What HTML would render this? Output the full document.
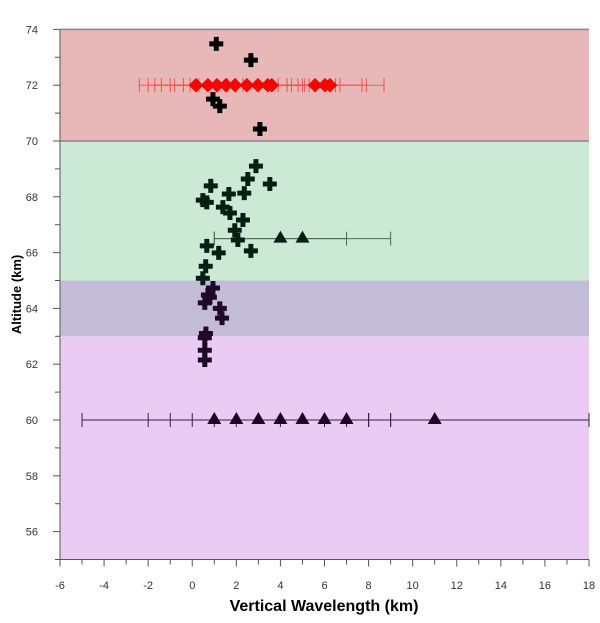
<!DOCTYPE html>
<html><head><meta charset="utf-8"><style>
body{margin:0;background:#fff;}
svg{display:block;font-family:"Liberation Sans",sans-serif;}
</style></head><body>
<svg id="c" width="600" height="623"></svg>
<script>
const crossX=[1.09,2.66,0.94,1.25,3.07,2.89,2.52,3.52,0.84,1.66,2.36,0.48,0.66,1.39,1.71,2.3,1.93,2.07,0.66,1.2,2.66,0.61,0.48,0.94,0.71,0.8,0.57,1.25,1.35,0.62,0.57,0.57,0.57];
const crossY=[73.48,72.9,71.5,71.25,70.43,69.1,68.64,68.46,68.39,68.1,68.13,67.88,67.8,67.63,67.42,67.17,66.8,66.45,66.24,65.99,66.06,65.51,65.08,64.73,64.48,64.4,64.2,64.0,63.65,63.1,62.95,62.5,62.15];
const diaX=[0.17,0.71,1.12,1.53,1.94,2.48,2.98,3.43,3.61,5.57,6.02,6.25];
const diaLo=[-2.4,-2.0,-1.7,-1.4,-1.0,-0.8,-0.4,-0.1,0.3,1.6,2.0,2.3];
const diaHi=[3.9,4.3,4.5,5.0,5.3,6.5,6.7,7.7,7.9,8.7,4.8,5.1];
const greenTriX=[4,5];const greenTriLo=[1,1];const greenTriHi=[7,9];
const purpleTriX=[1,2,3,4,5,6,7,11];
const purpleTriLo=[-5,-2,-1,0,1,2,4,8];
const purpleTriHi=[7,6,7,8,9,8,9,18];
const xTicks=[-6,-4,-2,0,2,4,6,8,10,12,14,16,18];
const yTicks=[56,58,60,62,64,66,68,70,72,74];
const NS="http://www.w3.org/2000/svg",svg=document.getElementById('c');
const X=v=>60+(v+6)*529/24, Y=v=>420-(v-60)*27.9;
function el(t,a,p){const e=document.createElementNS(NS,t);for(const k in a)e.setAttribute(k,a[k]);(p||svg).appendChild(e);return e;}
const bands=[[70,74,'#e8b8b8','band-high'],[65,70,'#cce9d6','band-mid'],[63,65,'#c3bcd6','band-low'],[55,63,'#eacbf3','band-bottom']];
bands.forEach(b=>{const r=el('rect',{x:X(-6),y:Y(b[1]),width:X(18)-X(-6),height:Y(b[0])-Y(b[1]),fill:b[2]});

});
el('line',{x1:X(-6),x2:X(18),y1:Y(70),y2:Y(70),stroke:'#888','stroke-width':1.5});
el('line',{x1:X(-6),x2:X(18),y1:Y(74),y2:Y(74),stroke:'#888','stroke-width':1.5});
el('line',{x1:X(-6),x2:X(-6),y1:Y(74),y2:Y(55),stroke:'#555'});
el('line',{x1:X(-6),x2:X(18),y1:Y(55),y2:Y(55),stroke:'#555'});
for(let v=-6;v<=18;v++)el('line',{x1:X(v),x2:X(v),y1:Y(55),y2:Y(55)+(v%2==0?7:5),stroke:'#555'});
for(let v=55;v<=74;v++)el('line',{x1:X(-6),x2:X(-6)-(v%2==0?7:5),y1:Y(v),y2:Y(v),stroke:'#555'});
xTicks.forEach(v=>{const t=el('text',{x:X(v),y:589,'font-size':11,'text-anchor':'middle',fill:'#333'});t.textContent=v;

});
yTicks.forEach(v=>{const t=el('text',{x:38,y:Y(v)+4,'font-size':11,'text-anchor':'end',fill:'#333'});t.textContent=v;

});
let t=el('text',{x:324,y:611,'font-size':16,'font-weight':'bold','text-anchor':'middle'});t.textContent='Vertical Wavelength (km)';


t=el('text',{x:21,y:Y(64.5),'font-size':13,'font-weight':'bold','text-anchor':'middle',transform:`rotate(-90 21 ${Y(64.5)})`});t.textContent='Altitude (km)';


function ebar(x,lo,hi,yv,col,w){const y=Y(yv);el('line',{x1:X(lo),x2:X(hi),y1:y,y2:y,stroke:col,'stroke-width':w});
[lo,hi].forEach(v=>el('line',{x1:X(v),x2:X(v),y1:y-7,y2:y+7,stroke:col,'stroke-width':1}));}
purpleTriX.forEach((x,i)=>ebar(x,purpleTriLo[i],purpleTriHi[i],60,'#3a2040',1));
greenTriX.forEach((x,i)=>ebar(x,greenTriLo[i],greenTriHi[i],66.5,'#4a6a55',1));
diaX.forEach((x,i)=>ebar(x,diaLo[i],diaHi[i],72,'#f05050',0.8));
function tri(x,yv,col,name){const cx=X(x),cy=Y(yv);const p=el('polygon',{points:`${cx},${cy-8} ${cx-7},${cy+4} ${cx+7},${cy+4}`,fill:col});

}
purpleTriX.forEach(x=>tri(x,60,'#200020','triangle-60km'));
greenTriX.forEach(x=>tri(x,66.5,'#082010','triangle-66km'));
diaX.forEach(x=>{const cx=X(x),cy=Y(72);const p=el('polygon',{points:`${cx},${cy-7} ${cx+7},${cy} ${cx},${cy+7} ${cx-7},${cy}`,fill:'#f00',stroke:'#c00','stroke-width':0.5});

});
crossX.forEach((x,i)=>{const yv=crossY[i];const col=yv>70?'#000':yv>65?'#062010':'#200828';const cx=X(x),cy=Y(yv);
const p=el('path',{d:`M${cx-2.5},${cy-7}h5v4.5h4.5v5h-4.5v4.5h-5v-4.5h-4.5v-5h4.5z`,fill:col});

});
</script>
</body></html>
